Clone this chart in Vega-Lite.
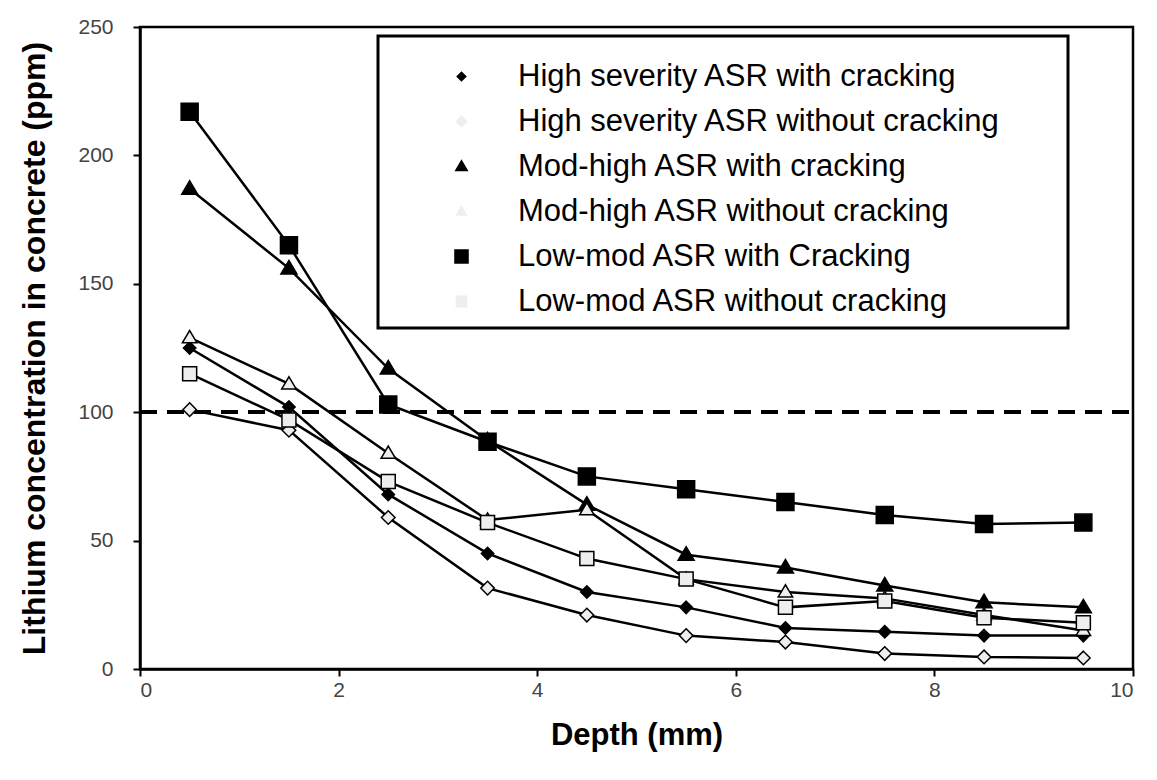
{
  "$schema": "https://vega.github.io/schema/vega-lite/v6.json",
  "width": 993,
  "height": 642,
  "autosize": "none",
  "padding": {"left": 140, "top": 27, "right": 24, "bottom": 111},
  "background": "white",
  "config": {
    "view": {"stroke": "black", "strokeWidth": 2.5},
    "legend": {"strokeWidth": 3, "symbolStrokeColor": "black", "symbolStrokeWidth": 2.5},
    "axis": {"grid": false, "domainColor": "black", "domainWidth": 2.5, "tickColor": "black", "tickWidth": 2, "tickSize": 7,
      "labelFont": "Liberation Sans Narrow, Liberation Sans, sans-serif", "labelFontSize": 21, "labelColor": "#444444",
      "titleFont": "Liberation Sans, Arial, sans-serif", "titleFontWeight": "bold", "titleColor": "black"}
  },
  "data": {"values": [
    {"series": "High severity ASR with cracking", "depth": 0.5, "li": 125},
    {"series": "High severity ASR with cracking", "depth": 1.5, "li": 102},
    {"series": "High severity ASR with cracking", "depth": 2.5, "li": 68},
    {"series": "High severity ASR with cracking", "depth": 3.5, "li": 45},
    {"series": "High severity ASR with cracking", "depth": 4.5, "li": 30},
    {"series": "High severity ASR with cracking", "depth": 5.5, "li": 24},
    {"series": "High severity ASR with cracking", "depth": 6.5, "li": 16},
    {"series": "High severity ASR with cracking", "depth": 7.5, "li": 14.5},
    {"series": "High severity ASR with cracking", "depth": 8.5, "li": 13},
    {"series": "High severity ASR with cracking", "depth": 9.5, "li": 13},
    {"series": "High severity ASR without cracking", "depth": 0.5, "li": 101},
    {"series": "High severity ASR without cracking", "depth": 1.5, "li": 93},
    {"series": "High severity ASR without cracking", "depth": 2.5, "li": 59},
    {"series": "High severity ASR without cracking", "depth": 3.5, "li": 31.5},
    {"series": "High severity ASR without cracking", "depth": 4.5, "li": 21},
    {"series": "High severity ASR without cracking", "depth": 5.5, "li": 13},
    {"series": "High severity ASR without cracking", "depth": 6.5, "li": 10.5},
    {"series": "High severity ASR without cracking", "depth": 7.5, "li": 6},
    {"series": "High severity ASR without cracking", "depth": 8.5, "li": 4.7},
    {"series": "High severity ASR without cracking", "depth": 9.5, "li": 4.3},
    {"series": "Mod-high ASR with cracking", "depth": 0.5, "li": 187},
    {"series": "Mod-high ASR with cracking", "depth": 1.5, "li": 156},
    {"series": "Mod-high ASR with cracking", "depth": 2.5, "li": 117},
    {"series": "Mod-high ASR with cracking", "depth": 3.5, "li": 89},
    {"series": "Mod-high ASR with cracking", "depth": 4.5, "li": 64},
    {"series": "Mod-high ASR with cracking", "depth": 5.5, "li": 44.5},
    {"series": "Mod-high ASR with cracking", "depth": 6.5, "li": 39.5},
    {"series": "Mod-high ASR with cracking", "depth": 7.5, "li": 32.5},
    {"series": "Mod-high ASR with cracking", "depth": 8.5, "li": 26},
    {"series": "Mod-high ASR with cracking", "depth": 9.5, "li": 24},
    {"series": "Mod-high ASR without cracking", "depth": 0.5, "li": 129},
    {"series": "Mod-high ASR without cracking", "depth": 1.5, "li": 111},
    {"series": "Mod-high ASR without cracking", "depth": 2.5, "li": 84},
    {"series": "Mod-high ASR without cracking", "depth": 3.5, "li": 58},
    {"series": "Mod-high ASR without cracking", "depth": 4.5, "li": 62},
    {"series": "Mod-high ASR without cracking", "depth": 5.5, "li": 35},
    {"series": "Mod-high ASR without cracking", "depth": 6.5, "li": 30},
    {"series": "Mod-high ASR without cracking", "depth": 7.5, "li": 27.5},
    {"series": "Mod-high ASR without cracking", "depth": 8.5, "li": 21},
    {"series": "Mod-high ASR without cracking", "depth": 9.5, "li": 15},
    {"series": "Low-mod ASR with Cracking", "depth": 0.5, "li": 217},
    {"series": "Low-mod ASR with Cracking", "depth": 1.5, "li": 165},
    {"series": "Low-mod ASR with Cracking", "depth": 2.5, "li": 103},
    {"series": "Low-mod ASR with Cracking", "depth": 3.5, "li": 88.5},
    {"series": "Low-mod ASR with Cracking", "depth": 4.5, "li": 75},
    {"series": "Low-mod ASR with Cracking", "depth": 5.5, "li": 70},
    {"series": "Low-mod ASR with Cracking", "depth": 6.5, "li": 65},
    {"series": "Low-mod ASR with Cracking", "depth": 7.5, "li": 60},
    {"series": "Low-mod ASR with Cracking", "depth": 8.5, "li": 56.5},
    {"series": "Low-mod ASR with Cracking", "depth": 9.5, "li": 57},
    {"series": "Low-mod ASR without cracking", "depth": 0.5, "li": 115},
    {"series": "Low-mod ASR without cracking", "depth": 1.5, "li": 97},
    {"series": "Low-mod ASR without cracking", "depth": 2.5, "li": 73},
    {"series": "Low-mod ASR without cracking", "depth": 3.5, "li": 57},
    {"series": "Low-mod ASR without cracking", "depth": 4.5, "li": 43},
    {"series": "Low-mod ASR without cracking", "depth": 5.5, "li": 35},
    {"series": "Low-mod ASR without cracking", "depth": 6.5, "li": 24},
    {"series": "Low-mod ASR without cracking", "depth": 7.5, "li": 26.5},
    {"series": "Low-mod ASR without cracking", "depth": 8.5, "li": 20},
    {"series": "Low-mod ASR without cracking", "depth": 9.5, "li": 18}
  ]},
  "encoding": {
    "x": {"field": "depth", "type": "quantitative", "scale": {"domain": [0, 10], "nice": false},
      "axis": {"values": [0, 2, 4, 6, 8, 10], "format": "d", "title": "Depth (mm)", "titleFontSize": 31, "labelPadding": 3, "titlePadding": 20}},
    "y": {"field": "li", "type": "quantitative", "scale": {"domain": [0, 250], "nice": false},
      "axis": {"values": [0, 50, 100, 150, 200, 250], "title": "Lithium concentration in concrete (ppm)", "titleFontSize": 32, "labelPadding": 20, "titlePadding": 26}}
  },
  "resolve": {"scale": {"shape": "independent", "fill": "independent"}},
  "layer": [
    {"mark": {"type": "rule", "color": "black", "strokeWidth": 3, "strokeDash": [17, 10]},
     "encoding": {"y": {"datum": 100}, "x": {"value": 0}, "x2": {"value": 993}}},
    {"mark": {"type": "line", "color": "black", "strokeWidth": 2.5},
     "encoding": {"detail": {"field": "series"}}},
    {"mark": {"type": "point", "filled": true, "stroke": "black", "strokeWidth": 1.5, "opacity": 1, "size": 400},
     "encoding": {
       "shape": {"field": "series", "type": "nominal", "legend": null,
         "scale": {"domain": ["High severity ASR with cracking", "High severity ASR without cracking", "Mod-high ASR with cracking", "Mod-high ASR without cracking", "Low-mod ASR with Cracking", "Low-mod ASR without cracking"],
                   "range": ["M0,-0.62L0.62,0L0,0.62L-0.62,0Z", "M0,-0.68L0.68,0L0,0.68L-0.68,0Z", "M-0.8,0.55L0,-0.8L0.8,0.55Z", "M-0.72,0.5L0,-0.72L0.72,0.5Z", "M-0.85,-0.85H0.85V0.85H-0.85Z", "M-0.7,-0.7H0.7V0.7H-0.7Z"]}},
       "fill": {"field": "series", "type": "nominal", "legend": null,
         "scale": {"domain": ["High severity ASR with cracking", "High severity ASR without cracking", "Mod-high ASR with cracking", "Mod-high ASR without cracking", "Low-mod ASR with Cracking", "Low-mod ASR without cracking"],
                   "range": ["black", "#eeeeee", "black", "#eeeeee", "black", "#eeeeee"]}}
     }},
    {"transform": [{"filter": "datum.li < 0"}],
     "mark": {"type": "point", "filled": false, "stroke": "black", "strokeWidth": 2.5, "opacity": 1},
     "encoding": {
       "shape": {"field": "series", "type": "nominal",
         "scale": {"domain": ["High severity ASR with cracking", "High severity ASR without cracking", "Mod-high ASR with cracking", "Mod-high ASR without cracking", "Low-mod ASR with Cracking", "Low-mod ASR without cracking"],
                   "range": ["M21.07,0M-1,0H-0.19M0.19,0H1M-0.19,0L0,-0.19L0.19,0L0,0.19Z", "M21.07,0M-1,0H-0.22M0.22,0H1M-0.22,0L0,-0.22L0.22,0L0,0.22Z", "M21.07,0M-1,0H-0.15M0.15,0H1M-0.25,0.17L0,-0.26L0.25,0.17Z", "M21.07,0M-1,0H-0.13M0.13,0H1M-0.22,0.15L0,-0.23L0.22,0.15Z", "M21.07,0M-1,0H-0.26M0.26,0H1M-0.26,-0.26H0.26V0.26H-0.26Z", "M21.07,0M-1,0H-0.21M0.21,0H1M-0.21,-0.21H0.21V0.21H-0.21Z"]},
         "legend": {
           "orient": "none", "legendX": 238, "legendY": 9, "title": null,
           "padding": 11, "strokeColor": "black", "fillColor": "white",
           "symbolSize": 3136, "symbolOffset": 43, "labelOffset": 27, "rowPadding": -10.7,
           "symbolStrokeWidth": 2.5, "symbolStrokeColor": "black",
           "labelFont": "Liberation Sans, Arial, sans-serif", "labelFontSize": 31, "labelColor": "black", "labelLimit": 800
         }},
       "fill": {"field": "series", "type": "nominal",
         "scale": {"domain": ["High severity ASR with cracking", "High severity ASR without cracking", "Mod-high ASR with cracking", "Mod-high ASR without cracking", "Low-mod ASR with Cracking", "Low-mod ASR without cracking"],
                   "range": ["black", "#eeeeee", "black", "#eeeeee", "black", "#eeeeee"]},
         "legend": {
           "orient": "none", "legendX": 238, "legendY": 9, "title": null,
           "padding": 11, "strokeColor": "black", "fillColor": "white",
           "symbolSize": 3136, "symbolOffset": 43, "labelOffset": 27, "rowPadding": -10.7,
           "symbolStrokeWidth": 2.5, "symbolStrokeColor": "black",
           "labelFont": "Liberation Sans, Arial, sans-serif", "labelFontSize": 31, "labelColor": "black", "labelLimit": 800
         }}
     }}
  ]
}
